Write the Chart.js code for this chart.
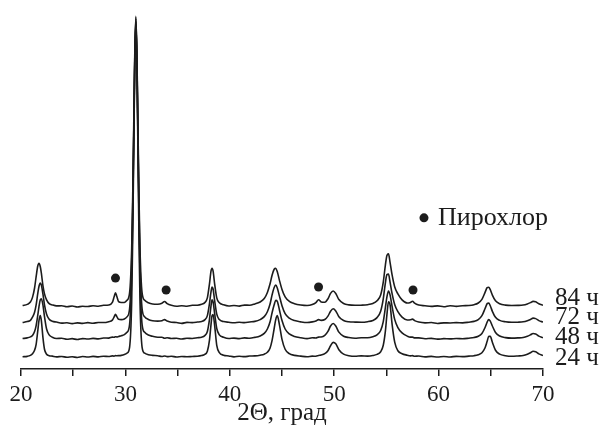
<!DOCTYPE html>
<html lang="ru">
<head>
<meta charset="UTF-8">
<title>XRD</title>
<script src="https://cdn.jsdelivr.net/npm/chart.js"></script>
<style>
  body { margin: 0; background: #fff; }
  #wrap { width: 602px; height: 430px; }
</style>
</head>
<body>
<div id="wrap"><canvas id="xrd" width="602" height="430"></canvas></div>
<script>
// 2Θ grid, degrees
const angles = [
  20.15, 20.6, 20.9, 21.1, 21.3, 21.45, 21.6, 21.72, 21.85, 21.95,
  22.1, 22.25, 22.45, 22.7, 23.0, 23.4, 23.9, 24.4, 24.9, 25.4,
  25.9, 26.4, 26.9, 27.4, 27.9, 28.4, 28.75, 28.92, 29.05, 29.18,
  29.35, 29.6, 29.9, 30.15, 30.4, 30.6, 30.7, 30.8, 30.9, 31.0,
  31.1, 31.2, 31.3, 31.4, 31.6, 31.85, 32.2, 32.6, 33.1, 33.5,
  33.75, 34.0, 34.4, 34.9, 35.4, 35.9, 36.4, 36.9, 37.3, 37.6,
  37.85, 38.05, 38.2, 38.3, 38.4, 38.55, 38.75, 39.0, 39.4, 39.9,
  40.4, 40.9, 41.4, 41.9, 42.4, 42.9, 43.3, 43.6, 43.85, 44.05,
  44.25, 44.4, 44.55, 44.75, 45.0, 45.3, 45.7, 46.2, 46.8, 47.4,
  47.9, 48.25, 48.5, 48.75, 49.1, 49.4, 49.65, 49.9, 50.15, 50.45,
  50.9, 51.4, 52.0, 52.6, 53.2, 53.7, 54.1, 54.45, 54.7, 54.9,
  55.05, 55.2, 55.35, 55.55, 55.8, 56.1, 56.5, 57.0, 57.3, 57.5,
  57.7, 58.1, 58.7, 59.3, 59.9, 60.5, 61.1, 61.7, 62.3, 62.9,
  63.4, 63.8, 64.15, 64.45, 64.65, 64.8, 64.95, 65.15, 65.45, 65.85,
  66.4, 67.0, 67.6, 68.1, 68.5, 68.8, 69.05, 69.3, 69.6, 70.0
];

// intensities (arb. units, already shifted for stacking)
const xrd84 = [
  64.3, 65.4, 67.8, 72.5, 82, 93.5, 104, 107, 103.5, 97,
  84.5, 76, 70, 66.2, 64.9, 63.9, 64.0, 63.0, 63.8, 62.8,
  63.5, 63.2, 64.1, 63.6, 64.5, 64.8, 67.4, 73.1, 77.2, 73.4,
  68.2, 67.3, 67.4, 69.5, 77, 121, 175, 248, 321, 357,
  321, 248, 175, 121, 77, 69.5, 67, 65.8, 65.6, 66.6,
  68.4, 66.2, 64.5, 63.5, 64.0, 63.6, 64.5, 64.6, 65.5, 67.2,
  72, 86, 99, 102, 99, 86, 72, 67, 65, 63.8,
  64.3, 63.7, 64.7, 64.6, 65.9, 67.8, 71.3, 77.5, 86, 95,
  101, 102, 98.5, 90, 80.5, 73, 68.5, 66.1, 64.8, 64.3,
  65.2, 67.3, 70.1, 67.9, 67.6, 71, 76.5, 79, 76.5, 70.3,
  66.3, 64.9, 64.5, 64.6, 65.1, 66.3, 69, 75, 88, 105,
  115, 116.5, 108, 95, 83, 76, 70, 66.8, 67.4, 68.6,
  66.6, 64.7, 64.0, 63.4, 63.9, 63.0, 64.1, 63.4, 64.1, 64.3,
  65.1, 66.8, 70.5, 77.5, 82.3, 82.8, 80.3, 74.8, 69, 66.1,
  64.7, 64.3, 64.4, 64.8, 65.9, 67.2, 68.5, 68, 66, 64.5
];
const xrd72 = [
  47.1, 48, 49.3, 52.5, 57.5, 65, 76, 83.5, 87, 85,
  76, 65, 55.5, 50.4, 48.4, 47.5, 46.4, 46.8, 45.9, 46.7,
  46.2, 46.9, 46.3, 47.1, 47.0, 47.9, 49.5, 52.7, 55.3, 53,
  50.3, 50, 50.6, 52.8, 61, 107, 164, 240, 317, 355,
  317, 240, 164, 107, 61, 52.8, 50.2, 48.9, 48.5, 48.9,
  50, 48.5, 47.3, 47.1, 46.2, 47.2, 46.9, 47.5, 48.2, 49.7,
  54, 66, 78, 83, 81, 69, 55.5, 50, 48, 47.3,
  46.8, 47.3, 46.9, 47.6, 48.2, 50, 53, 58, 65.5, 75,
  82.5, 85, 82, 74, 64, 56, 51.5, 49, 47.7, 47,
  47.7, 48.7, 50, 49.2, 50.1, 53.5, 58.5, 61, 58.8, 53,
  49.1, 47.8, 47.5, 47.3, 47.9, 49.2, 52, 58.5, 71, 87,
  95.5, 96, 88, 76, 65, 58, 52.5, 49.6, 49.8, 50.5,
  49, 47.5, 46.7, 47, 46.1, 46.7, 46.6, 46.9, 46.7, 47.4,
  48.2, 50, 54, 61.2, 66.2, 66.8, 64, 58.4, 52.3, 49.2,
  47.8, 47.3, 47.4, 47.8, 48.9, 50.2, 51.5, 51, 49, 47.5
];
const xrd48 = [
  30.8, 31.5, 32.5, 34, 38, 44, 54, 63, 70, 71,
  65, 53, 40.5, 34.5, 32.2, 30.9, 31.1, 30.1, 30.7, 29.8,
  30.8, 30.3, 31.0, 30.5, 31.4, 31.3, 32.3, 32.1, 32.7, 32.4,
  33, 33.6, 34.8, 37.1, 45, 94, 153, 233, 313, 352,
  313, 233, 153, 94, 45, 37.1, 34.4, 33.1, 32.1, 32.1,
  31.2, 31.6, 30.9, 31.1, 30.3, 31.2, 30.9, 31.6, 32.2, 33.8,
  38, 50, 64, 70, 68, 56, 41, 34.5, 32.2, 30.9,
  31.3, 30.7, 31.5, 31.1, 32, 33.5, 36, 40.5, 47.5, 57,
  65, 69.5, 68.5, 60, 49, 40.5, 35.5, 33, 31.7, 30.8,
  31.6, 31.4, 32.3, 32.4, 34, 38, 43.5, 46, 43.5, 37.3,
  33.2, 31.8, 31.1, 31.6, 31.6, 32.6, 34.5, 39, 48, 62,
  73, 79, 75, 63, 50, 42, 36.5, 33.3, 32.3, 32.3,
  31.5, 31.5, 30.6, 31, 30.2, 30.7, 30.5, 30.9, 30.6, 31.2,
  31.9, 33.2, 36, 42, 47.5, 50, 48.5, 43.5, 37, 33.4,
  31.8, 31.3, 31.5, 31.9, 33.1, 34.6, 36, 35.5, 33.3, 31.6
];
const xrd24 = [
  12.4, 12.8, 13.8, 15.5, 19, 25, 38, 49, 54, 49,
  32, 20, 15, 13.5, 13, 12.3, 12.7, 11.9, 12.4, 11.7,
  12.6, 12.1, 12.8, 12.3, 12.9, 12.6, 13.3, 13.0, 13.5, 13.4,
  13.5, 13.8, 14.6, 16, 22, 67, 132, 222, 309, 350,
  309, 222, 132, 67, 22, 16, 14.5, 13.8, 13.4, 12.6,
  13.1, 12.5, 12.9, 12.2, 12.7, 12.4, 12.7, 12.9, 13.6, 14.8,
  18, 29, 45, 54, 55, 44, 24, 16.5, 14, 13.2,
  12.3, 12.9, 12.5, 13.1, 13.3, 14, 15, 17, 21, 29,
  41, 50, 54, 45, 30, 20, 15.5, 13.8, 13, 12.4,
  13, 12.9, 13.7, 14.2, 15.5, 18.5, 23.5, 27, 25.5, 19.5,
  15, 13.5, 12.9, 13.3, 13, 13.6, 14.8, 17.5, 24, 38,
  55, 68, 65, 45, 27, 18.5, 15.5, 14, 13.3, 13.5,
  12.9, 13.1, 12.3, 12.8, 12.1, 12.6, 12.2, 12.8, 12.5, 13,
  13.5, 14.5, 16.5, 21.5, 28, 33, 33, 27, 19, 15,
  13.5, 12.9, 13.2, 13.6, 14.9, 16.5, 18, 17.5, 15.3, 13.6
];

const seriesNames = ['84 ч', '72 ч', '48 ч', '24 ч'];
const labelLevels = [71, 52, 32, 11];

// pyrochlore reflections (marker positions)
const pyroAngles = [29.05, 33.9, 48.5, 57.55];
const pyroLevels = [92, 80, 83, 80];
const pyroName = 'Пирохлор';

const xTicks = [20, 30, 40, 50, 60, 70];

const INK = '#1c1c1c';
const SERIF = '"Liberation Serif", "Times New Roman", serif';

function toPoints(ys) {
  return angles.map((a, i) => ({ x: a, y: ys[i] }));
}

const curves = [xrd84, xrd72, xrd48, xrd24].map((ys, i) => ({
  type: 'line',
  label: seriesNames[i],
  data: toPoints(ys),
  borderColor: INK,
  borderWidth: 1.6,
  pointRadius: 0,
  cubicInterpolationMode: 'monotone',
  fill: false
}));

const markers = {
  type: 'scatter',
  label: pyroName,
  data: pyroAngles.map((a, i) => ({ x: a, y: pyroLevels[i] })),
  pointStyle: 'circle',
  pointRadius: 4.5,
  backgroundColor: INK,
  borderColor: INK,
  borderWidth: 0
};

// curve names at the right and the small legend
const annotate = {
  id: 'annotate',
  afterDatasetsDraw(chart) {
    const { ctx, chartArea, scales } = chart;
    ctx.save();
    ctx.fillStyle = INK;
    ctx.textBaseline = 'middle';
    ctx.textAlign = 'left';
    ctx.font = '25px ' + SERIF;
    seriesNames.forEach((name, i) => {
      ctx.fillText(name, chartArea.right + 12, scales.y.getPixelForValue(labelLevels[i]));
    });
    const lx = scales.x.getPixelForValue(58.6);
    const ly = scales.y.getPixelForValue(153);
    ctx.beginPath();
    ctx.arc(lx, ly, 4.5, 0, Math.PI * 2);
    ctx.fill();
    ctx.font = '26px ' + SERIF;
    ctx.fillText(pyroName, lx + 14, ly);
    ctx.restore();
  }
};

new Chart(document.getElementById('xrd'), {
  data: { datasets: [...curves, markers] },
  options: {
    responsive: false,
    animation: false,
    layout: { padding: { left: 21, right: 59, top: 0, bottom: 0 } },
    plugins: { legend: { display: false }, tooltip: { enabled: false } },
    scales: {
      x: {
        type: 'linear',
        min: 20,
        max: 70,
        afterFit(scale) { scale.height = 61; },
        border: { display: true, color: INK, width: 1.5 },
        grid: { drawOnChartArea: false, drawTicks: true, tickLength: 7, color: INK, lineWidth: 1.5 },
        ticks: {
          stepSize: 5,
          padding: 7,
          color: INK,
          font: { family: SERIF, size: 23, lineHeight: 1 },
          maxRotation: 0,
          autoSkip: false,
          callback: v => xTicks.includes(v) ? String(v) : ''
        },
        title: {
          display: true,
          text: '2Θ, град',
          color: INK,
          padding: { top: 0, bottom: 4 },
          font: { family: SERIF, size: 25, lineHeight: 1 }
        }
      },
      y: {
        display: false,
        min: 0,
        max: 369
      }
    }
  },
  plugins: [annotate]
});
</script>
</body>
</html>
